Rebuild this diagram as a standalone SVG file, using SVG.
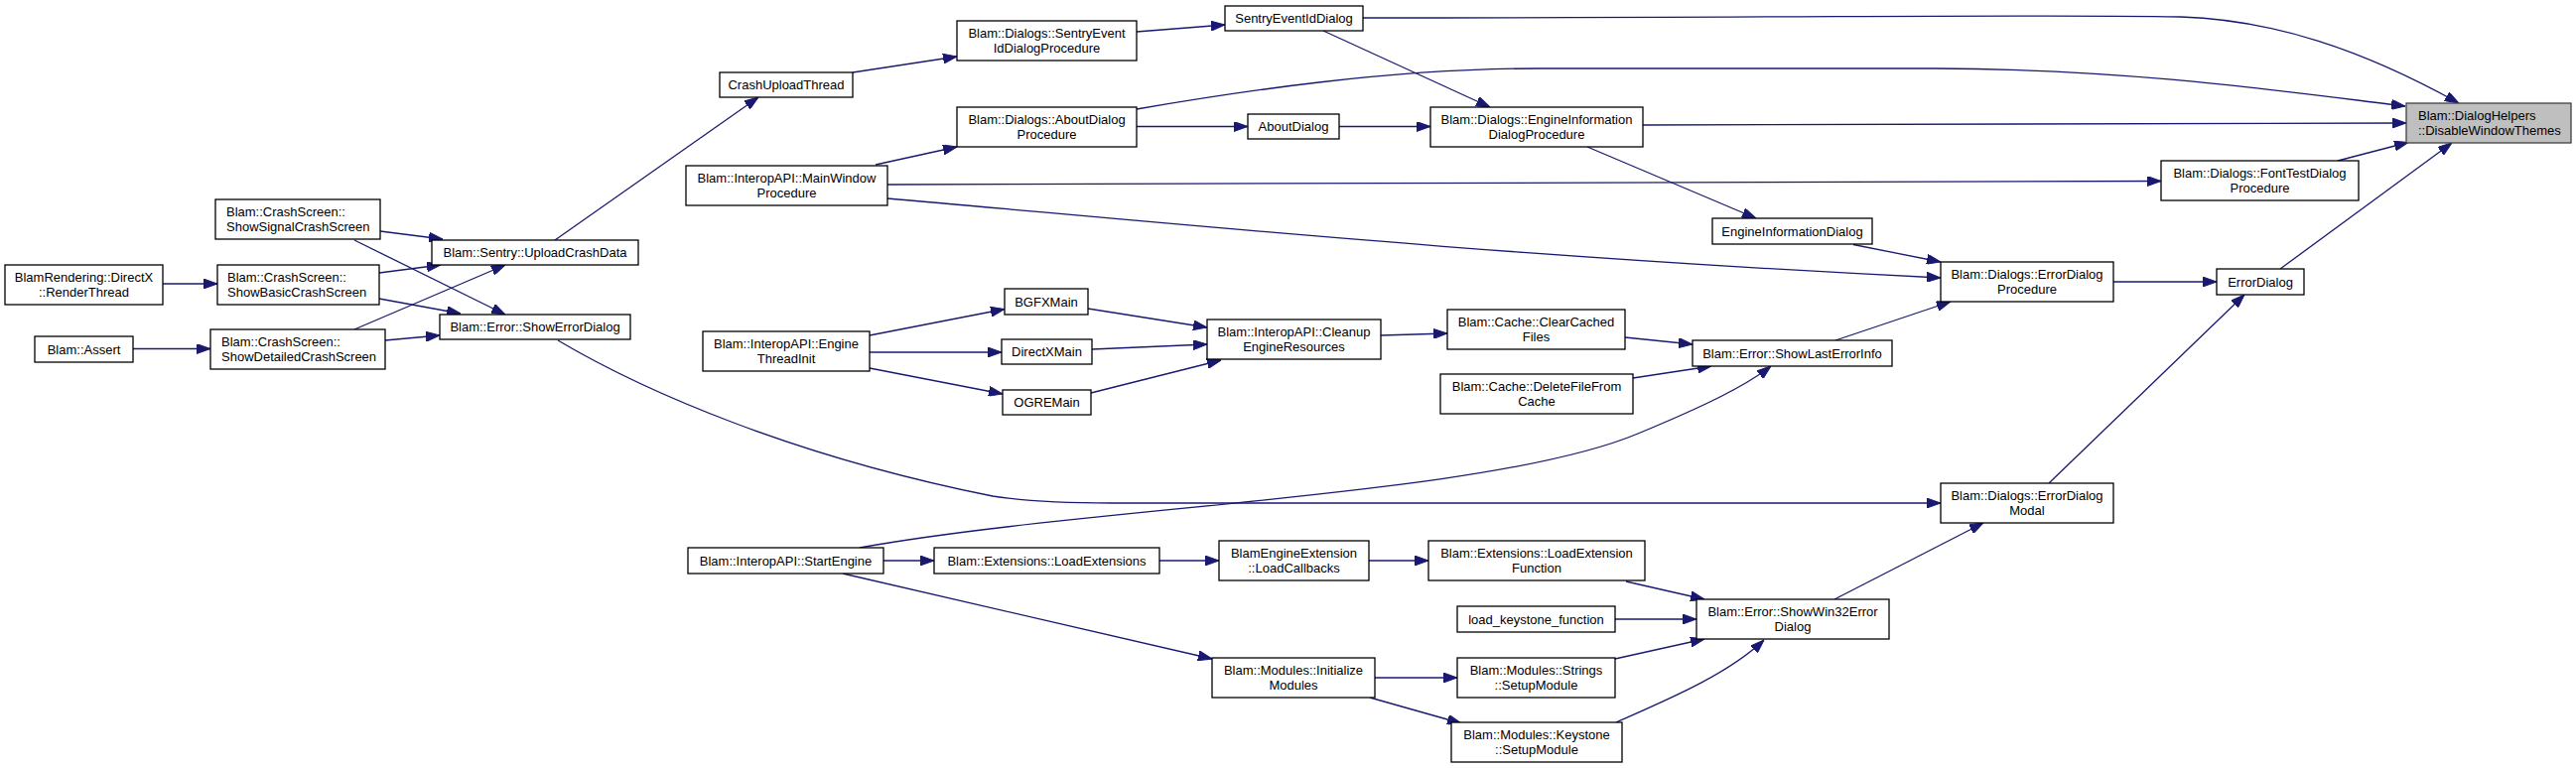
<svg xmlns="http://www.w3.org/2000/svg" width="2595" height="774" viewBox="0 0 2595 774">
<style>
.n rect{fill:#ffffff;stroke:#000000;stroke-width:1.3}
.n.root rect{fill:#bfbfbf;stroke:#404040}
.n text{font-family:"Liberation Sans",Arial,sans-serif;font-size:13px;text-anchor:middle;fill:#000}
.n text.l{text-anchor:start}
#edges path{fill:none;stroke:#191970;stroke-width:1.3;marker-end:url(#ah)}
</style>
<defs>
<marker id="ah" markerUnits="userSpaceOnUse" markerWidth="14" markerHeight="10" refX="14" refY="5" orient="auto">
<path d="M0,0 L14,5 L0,10 z" fill="#191970" stroke="#191970" stroke-width="1"/>
</marker>
</defs>
<rect width="2595" height="774" fill="#ffffff"/>
<g id="edges">
<path d="M1373,18 C1800,18 2100,14 2197,17 C2290,20 2380,50 2477,104"/>
<path d="M1145,110 C1250,92 1400,69 1550,69 L1950,69 C2150,70 2300,92 2423,107"/>
<path d="M1655,126 L2424,124"/>
<path d="M894,186 L2177,182.5"/>
<path d="M2355,162 L2426,143.5"/>
<path d="M2297,271 L2470,144"/>
<path d="M1333,31 L1501,108"/>
<path d="M1349,127.5 L1441,127.5"/>
<path d="M1145,127.5 L1257,127.5"/>
<path d="M1145,32 L1234,25"/>
<path d="M859,73 L964,57"/>
<path d="M559,242 L764,98"/>
<path d="M882,166 L964,148"/>
<path d="M894,200 C1150,222 1500,258 1955,280"/>
<path d="M1599,148 L1769,220"/>
<path d="M1867,246.5 L1955,264"/>
<path d="M2129,284 L2233,284"/>
<path d="M2064,487 L2261,297"/>
<path d="M1849,343 L1965,304"/>
<path d="M1637,340 L1705,347"/>
<path d="M1645,381 L1724,369"/>
<path d="M1391,338 L1458,336"/>
<path d="M1096,311 L1216,330"/>
<path d="M1100,352 L1216,347"/>
<path d="M1099,396 L1230,363"/>
<path d="M876,338 L1012,311.5"/>
<path d="M876,355 L1009,355"/>
<path d="M876,371 L1010,397"/>
<path d="M866,552 C1100,510 1500,500 1650,437 C1720,408 1760,388 1784,369"/>
<path d="M562,343 C650,395 800,460 1000,500 C1040,506 1080,507 1120,507 L1955,507"/>
<path d="M890,565 L941,565"/>
<path d="M1168,565 L1228,565"/>
<path d="M1379,565 L1439,565"/>
<path d="M1638,586 L1717,604"/>
<path d="M1627,624 L1709,624"/>
<path d="M1627,664 L1717,644"/>
<path d="M1628,728 C1680,705 1740,680 1777,645"/>
<path d="M1385,683 L1468,683"/>
<path d="M1380,703 L1472,729"/>
<path d="M849,578 L1221,664"/>
<path d="M1848,604 L1998,527"/>
<path d="M164,286 L219,286"/>
<path d="M134,351.5 L212,351.5"/>
<path d="M383,233 L446,241"/>
<path d="M357,242 L509,317"/>
<path d="M382,275 L444,267"/>
<path d="M382,301 L464,316"/>
<path d="M357,332 L509,267"/>
<path d="M388,343 L443,338"/>
</g>
<g id="n_dwt" class="n root"><rect x="2424" y="104" width="166" height="40"/><text class="l" x="2436" y="121">Blam::DialogHelpers</text><text class="l" x="2436" y="136">::DisableWindowThemes</text></g>
<g id="n_sentryDlg" class="n"><rect x="1234" y="6" width="139" height="25"/><text x="1303.5" y="23">SentryEventIdDialog</text></g>
<g id="n_sentryProc" class="n"><rect x="964" y="21" width="181" height="40"/><text x="1054.5" y="38">Blam::Dialogs::SentryEvent</text><text x="1054.5" y="53">IdDialogProcedure</text></g>
<g id="n_crashUpload" class="n"><rect x="725" y="73" width="134" height="25"/><text x="792" y="90">CrashUploadThread</text></g>
<g id="n_aboutProc" class="n"><rect x="964" y="108" width="181" height="40"/><text x="1054.5" y="125">Blam::Dialogs::AboutDialog</text><text x="1054.5" y="140">Procedure</text></g>
<g id="n_aboutDlg" class="n"><rect x="1257" y="115" width="92" height="25"/><text x="1303" y="132">AboutDialog</text></g>
<g id="n_engInfoProc" class="n"><rect x="1441" y="108" width="214" height="40"/><text x="1548" y="125">Blam::Dialogs::EngineInformation</text><text x="1548" y="140">DialogProcedure</text></g>
<g id="n_mainWin" class="n"><rect x="691" y="167" width="203" height="40"/><text x="792.5" y="184">Blam::InteropAPI::MainWindow</text><text x="792.5" y="199">Procedure</text></g>
<g id="n_fontTest" class="n"><rect x="2177" y="162" width="199" height="40"/><text x="2276.5" y="179">Blam::Dialogs::FontTestDialog</text><text x="2276.5" y="194">Procedure</text></g>
<g id="n_engInfoDlg" class="n"><rect x="1725" y="220" width="161" height="26"/><text x="1805.5" y="237.5">EngineInformationDialog</text></g>
<g id="n_errProc" class="n"><rect x="1955" y="264" width="174" height="40"/><text x="2042" y="281">Blam::Dialogs::ErrorDialog</text><text x="2042" y="296">Procedure</text></g>
<g id="n_errDlg" class="n"><rect x="2233" y="271" width="88" height="26"/><text x="2277" y="288.5">ErrorDialog</text></g>
<g id="n_upload" class="n"><rect x="435" y="242" width="208" height="25"/><text x="539" y="259">Blam::Sentry::UploadCrashData</text></g>
<g id="n_signal" class="n"><rect x="217" y="201" width="166" height="40"/><text class="l" x="228" y="218">Blam::CrashScreen::</text><text class="l" x="228" y="233">ShowSignalCrashScreen</text></g>
<g id="n_basic" class="n"><rect x="219" y="267" width="163" height="40"/><text class="l" x="229" y="284">Blam::CrashScreen::</text><text class="l" x="229" y="299">ShowBasicCrashScreen</text></g>
<g id="n_detailed" class="n"><rect x="212" y="332" width="176" height="40"/><text class="l" x="223" y="349">Blam::CrashScreen::</text><text class="l" x="223" y="364">ShowDetailedCrashScreen</text></g>
<g id="n_render" class="n"><rect x="5" y="267" width="159" height="40"/><text x="84.5" y="284">BlamRendering::DirectX</text><text x="84.5" y="299">::RenderThread</text></g>
<g id="n_assert" class="n"><rect x="35" y="339" width="99" height="26"/><text x="84.5" y="356.5">Blam::Assert</text></g>
<g id="n_showErr" class="n"><rect x="443" y="317" width="192" height="25"/><text x="539" y="334">Blam::Error::ShowErrorDialog</text></g>
<g id="n_engThread" class="n"><rect x="708" y="334" width="168" height="40"/><text x="792" y="351">Blam::InteropAPI::Engine</text><text x="792" y="366">ThreadInit</text></g>
<g id="n_bgfx" class="n"><rect x="1012" y="291" width="84" height="26"/><text x="1054" y="308.5">BGFXMain</text></g>
<g id="n_directx" class="n"><rect x="1009" y="342" width="91" height="25"/><text x="1054.5" y="359">DirectXMain</text></g>
<g id="n_ogre" class="n"><rect x="1010" y="393" width="89" height="25"/><text x="1054.5" y="410">OGREMain</text></g>
<g id="n_cleanup" class="n"><rect x="1216" y="322" width="175" height="40"/><text x="1303.5" y="339">Blam::InteropAPI::Cleanup</text><text x="1303.5" y="354">EngineResources</text></g>
<g id="n_clearCache" class="n"><rect x="1458" y="312" width="179" height="40"/><text x="1547.5" y="329">Blam::Cache::ClearCached</text><text x="1547.5" y="344">Files</text></g>
<g id="n_deleteFile" class="n"><rect x="1451" y="377" width="194" height="40"/><text x="1548" y="394">Blam::Cache::DeleteFileFrom</text><text x="1548" y="409">Cache</text></g>
<g id="n_showLast" class="n"><rect x="1705" y="343" width="201" height="26"/><text x="1805.5" y="360.5">Blam::Error::ShowLastErrorInfo</text></g>
<g id="n_errModal" class="n"><rect x="1955" y="487" width="174" height="40"/><text x="2042" y="504">Blam::Dialogs::ErrorDialog</text><text x="2042" y="519">Modal</text></g>
<g id="n_startEngine" class="n"><rect x="693" y="552" width="197" height="26"/><text x="791.5" y="569.5">Blam::InteropAPI::StartEngine</text></g>
<g id="n_loadExt" class="n"><rect x="941" y="552" width="227" height="26"/><text x="1054.5" y="569.5">Blam::Extensions::LoadExtensions</text></g>
<g id="n_loadCallbacks" class="n"><rect x="1228" y="545" width="151" height="40"/><text x="1303.5" y="562">BlamEngineExtension</text><text x="1303.5" y="577">::LoadCallbacks</text></g>
<g id="n_loadExtFunc" class="n"><rect x="1439" y="545" width="218" height="40"/><text x="1548" y="562">Blam::Extensions::LoadExtension</text><text x="1548" y="577">Function</text></g>
<g id="n_loadKeystone" class="n"><rect x="1468" y="611" width="159" height="26"/><text x="1547.5" y="628.5">load_keystone_function</text></g>
<g id="n_strings" class="n"><rect x="1468" y="663" width="159" height="40"/><text x="1547.5" y="680">Blam::Modules::Strings</text><text x="1547.5" y="695">::SetupModule</text></g>
<g id="n_keystone" class="n"><rect x="1462" y="728" width="172" height="40"/><text x="1548" y="745">Blam::Modules::Keystone</text><text x="1548" y="760">::SetupModule</text></g>
<g id="n_initModules" class="n"><rect x="1221" y="663" width="164" height="40"/><text x="1303" y="680">Blam::Modules::Initialize</text><text x="1303" y="695">Modules</text></g>
<g id="n_win32" class="n"><rect x="1709" y="604" width="194" height="40"/><text x="1806" y="621">Blam::Error::ShowWin32Error</text><text x="1806" y="636">Dialog</text></g>
</svg>
